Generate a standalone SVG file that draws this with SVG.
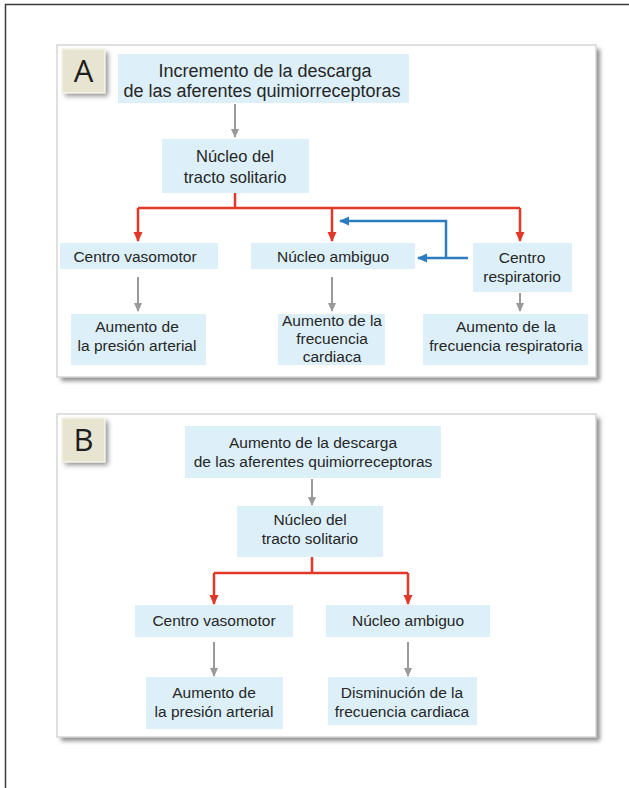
<svg xmlns="http://www.w3.org/2000/svg" width="629" height="788" viewBox="0 0 629 788">
  <defs>
    <filter id="soft" x="-10%" y="-10%" width="130%" height="130%">
      <feGaussianBlur stdDeviation="2"/>
    </filter>
    <filter id="tagShadow" x="-30%" y="-30%" width="180%" height="180%">
      <feGaussianBlur stdDeviation="2.5"/>
    </filter>
    <marker id="headRed" markerUnits="userSpaceOnUse" markerWidth="10" markerHeight="10" viewBox="0 0 10 10" refX="9" refY="5" orient="auto">
      <path d="M0,0.5 L10,5 L0,9.5 Z" fill="#e2382b"/>
    </marker>
    <marker id="headGray" markerUnits="userSpaceOnUse" markerWidth="9" markerHeight="9" viewBox="0 0 10 10" refX="9" refY="5" orient="auto">
      <path d="M0,0.5 L10,5 L0,9.5 Z" fill="#9a9a9a"/>
    </marker>
    <marker id="headBlue" markerUnits="userSpaceOnUse" markerWidth="10" markerHeight="10" viewBox="0 0 10 10" refX="9" refY="5" orient="auto">
      <path d="M0,0.5 L10,5 L0,9.5 Z" fill="#2c7cc0"/>
    </marker>
  </defs>
  <style>
    text { font-family: "Liberation Sans", Arial, sans-serif; fill: #262626; text-anchor: middle; }
    .t18 { font-size: 18px; }
    .t16 { font-size: 16.5px; }
    .t15 { font-size: 15.5px; }
    .tag { font-family: "Open Sans", "Liberation Sans", sans-serif; font-size: 31px; fill: #1e1e1e; }
    .box { fill: #ddf0fa; }
    .panel { fill: #ffffff; stroke: #d6d6d6; stroke-width: 1.5; }
    .shadow { fill: #8f8f8f; }
    .tagbox { fill: #e7e5d1; stroke: #f4f3ea; stroke-width: 1.5; }
    .red { fill: none; stroke: #e2382b; stroke-width: 2.5; }
    .gray { fill: none; stroke: #9a9a9a; stroke-width: 2; }
    .blue { fill: none; stroke: #2c7cc0; stroke-width: 2.5; }
  </style>

  <!-- page frame -->
  <rect x="0" y="0" width="629" height="788" fill="#ffffff"/>
  <path d="M5.5,788 V4.5 H629" fill="none" stroke="#3a3a3a" stroke-width="1.5"/>

  <!-- panel A -->
  <g id="panelA">
    <rect class="shadow" x="61" y="49" width="539" height="332" filter="url(#soft)"/>
    <rect class="panel" x="57" y="45" width="539" height="332"/>
    <rect class="shadow" x="65" y="52" width="43" height="44" filter="url(#tagShadow)"/>
    <rect class="tagbox" x="62" y="49" width="43" height="44"/>
    <text class="tag" x="83.5" y="82">A</text>
  </g>

  <!-- panel B -->
  <g id="panelB">
    <rect class="shadow" x="61" y="418" width="539" height="323" filter="url(#soft)"/>
    <rect class="panel" x="57" y="414" width="539" height="323"/>
    <rect class="shadow" x="65" y="421" width="43" height="44" filter="url(#tagShadow)"/>
    <rect class="tagbox" x="62" y="418" width="43" height="44"/>
    <text class="tag" x="83.5" y="451">B</text>
  </g>

  <!-- connectors -->
  <g id="connectors">
    <!-- A -->
    <line class="gray" x1="235" y1="104" x2="235" y2="137" marker-end="url(#headGray)"/>
    <path class="red" d="M235,193 V208 M138,208 H520"/>
    <line class="red" x1="138" y1="208" x2="138" y2="241" marker-end="url(#headRed)"/>
    <line class="red" x1="332" y1="208" x2="332" y2="241" marker-end="url(#headRed)"/>
    <line class="red" x1="520" y1="208" x2="520" y2="241" marker-end="url(#headRed)"/>
    <path class="blue" d="M468,258 H418" marker-end="url(#headBlue)"/>
    <path class="blue" d="M446,258 V221 H340" marker-end="url(#headBlue)"/>
    <line class="gray" x1="138" y1="277" x2="138" y2="311" marker-end="url(#headGray)"/>
    <line class="gray" x1="332" y1="277" x2="332" y2="311" marker-end="url(#headGray)"/>
    <line class="gray" x1="520" y1="293" x2="520" y2="311" marker-end="url(#headGray)"/>
    <!-- B -->
    <line class="gray" x1="312" y1="479" x2="312" y2="505" marker-end="url(#headGray)"/>
    <path class="red" d="M312,557 V573 M214,573 H408"/>
    <line class="red" x1="214" y1="573" x2="214" y2="604" marker-end="url(#headRed)"/>
    <line class="red" x1="408" y1="573" x2="408" y2="604" marker-end="url(#headRed)"/>
    <line class="gray" x1="214" y1="642" x2="214" y2="676" marker-end="url(#headGray)"/>
    <line class="gray" x1="408" y1="642" x2="408" y2="676" marker-end="url(#headGray)"/>
  </g>

  <!-- nodes, panel A -->
  <g id="a-descarga">
    <rect class="box" x="118" y="54" width="291" height="49"/>
    <text class="t18" x="265" y="77">Incremento de la descarga</text>
    <text class="t18" x="262" y="97">de las aferentes quimiorreceptoras</text>
  </g>
  <g id="a-nts">
    <rect class="box" x="162" y="139" width="147" height="54"/>
    <text class="t16" x="235" y="162">Núcleo del</text>
    <text class="t16" x="235" y="183">tracto solitario</text>
  </g>
  <g id="a-vasomotor">
    <rect class="box" x="60" y="243" width="158" height="26"/>
    <text class="t15" x="135" y="262">Centro vasomotor</text>
  </g>
  <g id="a-ambiguo">
    <rect class="box" x="251" y="243" width="164" height="26"/>
    <text class="t15" x="333" y="262">Núcleo ambiguo</text>
  </g>
  <g id="a-respiratorio">
    <rect class="box" x="473" y="243" width="99" height="49"/>
    <text class="t15" x="522" y="263">Centro</text>
    <text class="t15" x="522" y="282">respiratorio</text>
  </g>
  <g id="a-presion">
    <rect class="box" x="71" y="314" width="135" height="51"/>
    <text class="t15" x="137" y="332">Aumento de</text>
    <text class="t15" x="137" y="351">la presión arterial</text>
  </g>
  <g id="a-fcardiaca">
    <rect class="box" x="278" y="314" width="107" height="51"/>
    <text class="t15" x="332" y="326">Aumento de la</text>
    <text class="t15" x="332" y="344">frecuencia</text>
    <text class="t15" x="332" y="362">cardiaca</text>
  </g>
  <g id="a-frespiratoria">
    <rect class="box" x="423" y="314" width="165" height="51"/>
    <text class="t15" x="506" y="332">Aumento de la</text>
    <text class="t15" x="506" y="351">frecuencia respiratoria</text>
  </g>

  <!-- nodes, panel B -->
  <g id="b-descarga">
    <rect class="box" x="185" y="426" width="256" height="52"/>
    <text class="t15" x="313" y="448">Aumento de la descarga</text>
    <text class="t15" x="313" y="467">de las aferentes quimiorreceptoras</text>
  </g>
  <g id="b-nts">
    <rect class="box" x="237" y="506" width="146" height="51"/>
    <text class="t15" x="310" y="525">Núcleo del</text>
    <text class="t15" x="310" y="544">tracto solitario</text>
  </g>
  <g id="b-vasomotor">
    <rect class="box" x="135" y="605" width="158" height="32"/>
    <text class="t15" x="214" y="626">Centro vasomotor</text>
  </g>
  <g id="b-ambiguo">
    <rect class="box" x="326" y="605" width="164" height="32"/>
    <text class="t15" x="408" y="626">Núcleo ambiguo</text>
  </g>
  <g id="b-presion">
    <rect class="box" x="146" y="677" width="137" height="52"/>
    <text class="t15" x="214" y="698">Aumento de</text>
    <text class="t15" x="214" y="717">la presión arterial</text>
  </g>
  <g id="b-fcardiaca">
    <rect class="box" x="328" y="677" width="149" height="48"/>
    <text class="t15" x="402" y="698">Disminución de la</text>
    <text class="t15" x="402" y="717">frecuencia cardiaca</text>
  </g>
</svg>
